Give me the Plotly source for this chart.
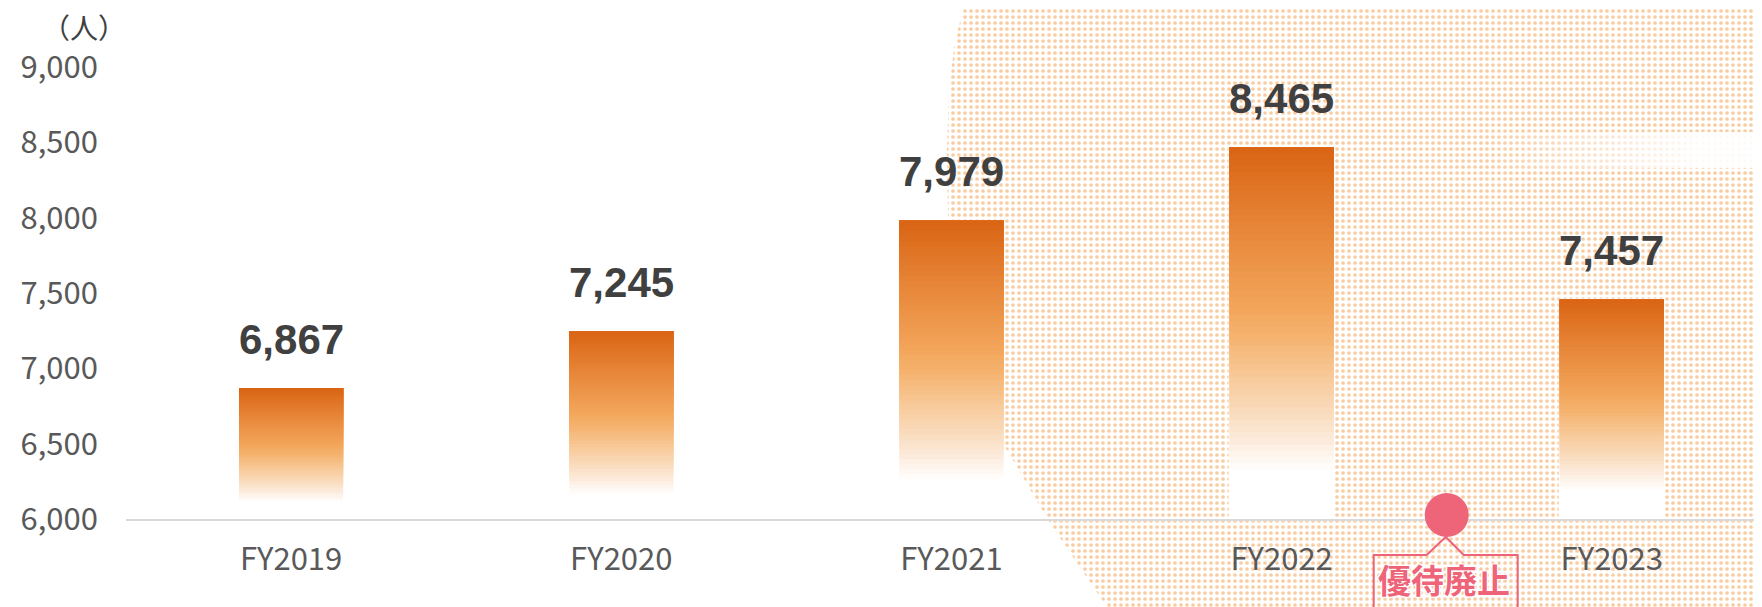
import plotly.graph_objects as go

# page is 1762x607 but the html body has an 8px margin
OFF = 8
W, H = 1762 - OFF, 607 - OFF

CATEGORIES = ["FY2019", "FY2020", "FY2021", "FY2022", "FY2023"]
VISITORS = [6867, 7245, 7979, 8465, 7457]
Y_MIN, Y_MAX, Y_STEP = 6000, 9000, 500
UNIT_LABEL = "（人）"
NOTE_TEXT = "優待廃止"
NOTE_POS = 3.5  # between FY2022 and FY2023

# bar gradient stops: 0 = top of bar, 1 = baseline
GRAD = [
    (0.00, (218, 100, 20)),
    (0.24, (232, 137, 60)),
    (0.43, (242, 165, 90)),
    (0.51, (245, 179, 111)),
    (0.60, (247, 198, 147)),
    (0.70, (249, 217, 184)),
    (0.79, (252, 235, 220)),
    (0.87, (255, 255, 255)),
    (1.00, (255, 255, 255)),
]
N_LAYERS = 60

# dotted backdrop outline (page pixels, y downwards)
BG_X = [966, 955, 949, 947, 948, 955, 968, 988, 1010, 1030, 1048, 1075, 1107, 1762, 1762]
BG_Y = [0, 40, 90, 150, 220, 300, 370, 420, 455, 490, 520, 560, 607, 607, 0]
# faded streak on the right
STREAK_X = [1490, 1762, 1762, 1490]
STREAK_Y = [132, 132, 168, 168]


def px_x(p):
    return (p - OFF) / W


def px_y(p):
    return 1 - (p - OFF) / H


X_DOM = [px_x(126), 1.0]
Y_DOM = [px_y(519), px_y(67)]

PINK = "#EE6479"
DOT = "#F29742"


def grad_color(f):
    for (f0, c0), (f1, c1) in zip(GRAD, GRAD[1:]):
        if f0 <= f <= f1:
            t = (f - f0) / (f1 - f0) if f1 > f0 else 0
            r, g, b = (round(a + (b_ - a) * t) for a, b_ in zip(c0, c1))
            return f"rgb({r},{g},{b})"
    return "rgb(255,255,255)"


fig = go.Figure()

# ── backdrop on a full-page helper subplot ───────────────────────────────────
fig.add_trace(go.Scatter(
    x=BG_X, y=BG_Y, mode="lines", fill="toself",
    line=dict(width=0),
    fillpattern=dict(shape=".", size=6, solidity=0.3, fgcolor=DOT, bgcolor="white"),
    hoverinfo="skip", showlegend=False, xaxis="x", yaxis="y",
))
fig.add_trace(go.Scatter(
    x=STREAK_X, y=STREAK_Y, mode="lines", fill="toself",
    line=dict(width=0),
    fillgradient=dict(type="horizontal", start=1490, stop=1700,
                      colorscale=[[0, "rgba(255,255,255,0)"], [1, "rgba(255,255,255,0.92)"]]),
    hoverinfo="skip", showlegend=False, xaxis="x", yaxis="y",
))

# ── gradient bars: stacked layers, each from a fraction of height to the top ─
for k in range(N_LAYERS):
    frac = k / N_LAYERS
    f_top = 1 - (k + 0.5) / N_LAYERS
    fig.add_trace(go.Bar(
        x=CATEGORIES,
        y=[(v - Y_MIN) * (1 - frac) for v in VISITORS],
        base=[Y_MIN + (v - Y_MIN) * frac for v in VISITORS],
        width=0.315,
        marker=dict(color=grad_color(f_top),
                    line=dict(color="white", width=2 if k == 0 else 0)),
        hoverinfo="skip", showlegend=False, xaxis="x2", yaxis="y2",
    ))

# value labels
for cat, v in zip(CATEGORIES, VISITORS):
    fig.add_annotation(
        x=cat, y=v, xref="x2", yref="y2", text=f"{v:,}",
        showarrow=False, yanchor="middle", yshift=49,
        font=dict(family="Liberation Sans", size=42, color="#404040", weight="bold"),
    )

# unit label
fig.add_annotation(
    x=px_x(84), y=px_y(27), xref="paper", yref="paper", text=UNIT_LABEL,
    showarrow=False, xanchor="center", yanchor="middle",
    font=dict(family="Noto Sans CJK JP", size=28, color="#404040"),
)

# ── "優待廃止" marker and callout ──────────────────────────────────────────────
fig.add_shape(
    type="circle", xref="x2", yref="paper",
    xsizemode="pixel", ysizemode="pixel", xanchor=NOTE_POS, yanchor=Y_DOM[0],
    x0=-22, x1=22, y0=-18, y1=26,
    fillcolor=PINK, line=dict(width=0),
)
fig.add_shape(
    type="path", xref="x2", yref="paper",
    xsizemode="pixel", ysizemode="pixel", xanchor=NOTE_POS, yanchor=Y_DOM[0],
    path="M -73 -110 L -73 -36 L -20 -36 L -1 -18 L 17 -36 L 71 -36 L 71 -110",
    line=dict(color=PINK, width=2),
)
fig.add_annotation(
    x=NOTE_POS, y=Y_DOM[0], xref="x2", yref="paper", text=NOTE_TEXT,
    showarrow=False, yanchor="middle", yshift=-60, xshift=-3,
    font=dict(family="Noto Sans CJK JP", size=33, color=PINK, weight="bold",
              shadow="1px 1px 0 #fff, -1px -1px 0 #fff, 1px -1px 0 #fff, -1px 1px 0 #fff"),
)

tick_font = dict(family="Noto Sans CJK JP", size=31, color="#595959")

fig.update_layout(
    width=W, height=H,
    margin=dict(l=0, r=0, t=0, b=0),
    paper_bgcolor="white", plot_bgcolor="rgba(0,0,0,0)",
    barmode="overlay", hovermode=False,
    xaxis=dict(domain=[0, 1], range=[OFF, OFF + W], visible=False, fixedrange=True),
    yaxis=dict(domain=[0, 1], range=[OFF + H, OFF], visible=False, fixedrange=True),
    xaxis2=dict(
        domain=X_DOM, anchor="y2", type="category", range=[-0.5, 4.455],
        showgrid=False, zeroline=False, showline=True, linecolor="#D9D9D9", linewidth=2,
        ticks="", ticklabelstandoff=12, tickfont=tick_font, automargin=False, fixedrange=True,
    ),
    yaxis2=dict(
        domain=Y_DOM, anchor="x2", range=[Y_MIN, Y_MAX], dtick=Y_STEP, tick0=Y_MIN,
        tickformat=",d", showgrid=False, zeroline=False, showline=False,
        ticks="", ticklabelstandoff=27, tickfont=tick_font, automargin=False, fixedrange=True,
    ),
)

fig.write_html("out.html")
